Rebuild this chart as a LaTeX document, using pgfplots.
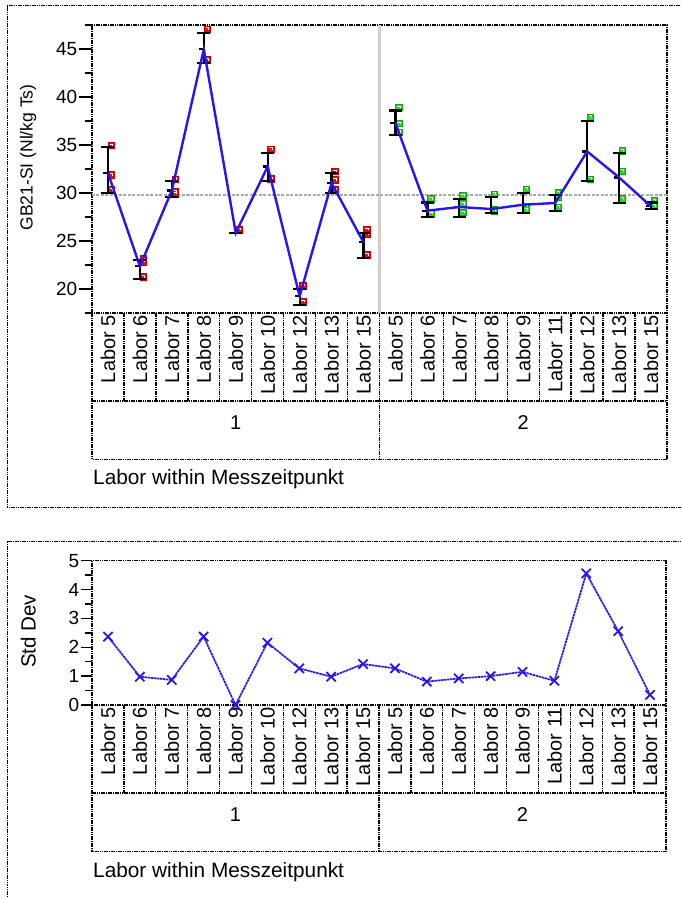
\documentclass[border=0pt]{standalone}
\usepackage{pgfplots}
\pgfplotsset{compat=1.18}
\usepackage{pgfplotstable}
\usepackage{fontspec}
\setmainfont{Liberation Sans}

\definecolor{jblue}{RGB}{40,20,240}
\definecolor{jred}{RGB}{240,10,10}
\definecolor{jredd}{RGB}{205,0,0}
\definecolor{jgreen}{RGB}{40,215,40}
\definecolor{jgreend}{RGB}{20,165,20}
\definecolor{jgray}{RGB}{170,170,170}
\definecolor{jdiv}{RGB}{210,205,200}

\tikzset{jdot/.style={line width=1.4pt, dash pattern=on 1.6pt off 0.7pt, black}}

\pgfdeclareplotmark{jwhite}{%
  \pgfpathmoveto{\pgfqpoint{-0.45\pgfplotmarksize}{0.4\pgfplotmarksize}}%
  \pgfpathlineto{\pgfqpoint{0.4\pgfplotmarksize}{0.4\pgfplotmarksize}}%
  \pgfpathlineto{\pgfqpoint{0.4\pgfplotmarksize}{-0.25\pgfplotmarksize}}%
  \pgfusepathqstroke}
\pgfdeclareplotmark{lefttick}{%
  \pgfpathmoveto{\pgfqpoint{-\pgfplotmarksize}{0pt}}%
  \pgfpathlineto{\pgfqpoint{0pt}{0pt}}%
  \pgfusepathqstroke}

\pgfplotstableread{
x y
0.5 34.99
0.5 31.90
0.5 30.34
1.5 23.13
1.5 22.85
1.5 21.26
2.5 31.46
2.5 30.15
2.5 29.93
3.5 47.08
3.5 43.87
4.5 26.18
4.5 26.18
4.5 26.18
5.5 34.58
5.5 31.49
6.5 20.35
6.5 18.69
7.5 32.25
7.5 31.38
7.5 30.34
8.5 26.22
8.5 25.73
8.5 23.55
}\redpts

\pgfplotstableread{
x y
9.5 38.91
9.5 37.28
9.5 36.35
10.5 29.38
10.5 28.00
10.5 27.85
11.5 29.72
11.5 28.86
11.5 27.98
12.5 29.90
12.5 28.25
12.5 28.16
13.5 30.42
13.5 28.60
13.5 28.26
14.5 30.06
14.5 29.54
14.5 28.54
15.5 37.91
15.5 31.46
16.5 34.40
16.5 32.29
16.5 29.38
17.5 29.20
17.5 28.65
}\greenpts

\pgfplotstableread{
x mean hi lo
0.5 32.08 34.79 30.00
1.5 22.36 22.99 21.05
2.5 30.27 31.25 29.58
3.5 44.98 46.65 43.53
4.5 25.84 25.84 25.84
5.5 32.77 34.16 31.25
6.5 19.24 20.00 18.35
7.5 31.04 32.08 30.00
8.5 24.86 25.84 23.20
}\cellsA

\pgfplotstableread{
x mean hi lo
9.5 37.28 38.60 36.04
10.5 28.16 29.02 27.50
11.5 28.54 29.38 27.50
12.5 28.33 29.58 27.92
13.5 28.78 30.00 27.92
14.5 28.96 29.82 28.13
15.5 34.33 37.49 31.25
16.5 31.62 34.16 28.96
17.5 28.61 29.02 28.33
}\cellsB

\pgfplotstableread{
x sd
0.5 2.37
1.5 0.98
2.5 0.87
3.5 2.37
4.5 0.00
5.5 2.16
6.5 1.27
7.5 0.98
8.5 1.42
9.5 1.27
10.5 0.81
11.5 0.92
12.5 1.00
13.5 1.15
14.5 0.84
15.5 4.56
16.5 2.56
17.5 0.35
}\sdtab

\pgfplotsset{
  jmpaxis/.style={
    anchor=south west, scale only axis,
    xmin=0, xmax=18,
    axis line style={jdot},
    xtick={0.5,1.5,...,17.5},
    xticklabels={Labor 5,Labor 6,Labor 7,Labor 8,Labor 9,Labor 10,Labor 12,Labor 13,Labor 15,Labor 5,Labor 6,Labor 7,Labor 8,Labor 9,Labor 11,Labor 12,Labor 13,Labor 15},
    xtick style={draw=none},
    xticklabel style={rotate=90, anchor=east, inner sep=2pt, font=\fontsize{20}{20}\selectfont},
    ytick align=outside, ytick pos=left,
    minor tick length=7pt,
    ytick style={line width=1.4pt, black},
    yticklabel style={font=\fontsize{19}{19}\selectfont, inner sep=1.5pt},
    /pgf/number format/assume math mode=true,
    clip mode=individual,
  },
}

\newcommand{\jmptable}{%
  \pgfplotsinvokeforeach{1,2,3,4,5,6,7,8,10,11,12,13,14,15,16,17}{%
    \draw[jdot] (axis cs:##1,\pgfkeysvalueof{/pgfplots/ymin}) -- ++(0pt,-88pt);}%
  \draw[jdot] (rel axis cs:0,0) -- ([yshift=-146.5pt]rel axis cs:0,0) -- ([yshift=-146.5pt]rel axis cs:1,0) -- (rel axis cs:1,0);
  \draw[jdot] ([yshift=-88pt]rel axis cs:0,0) -- ([yshift=-88pt]rel axis cs:1,0);
  \draw[jdot] (rel axis cs:0.5,0) -- ([yshift=-146.5pt]rel axis cs:0.5,0);
  \node[font=\fontsize{20}{20}\selectfont] at ([yshift=-109.5pt]rel axis cs:0.25,0) {1};
  \node[font=\fontsize{20}{20}\selectfont] at ([yshift=-109.5pt]rel axis cs:0.75,0) {2};
  \node[anchor=base west, inner sep=0pt, font=\fontsize{20.8}{20.8}\selectfont] at ([xshift=1pt,yshift=-172pt]rel axis cs:0,0) {Labor within Messzeitpunkt};
}

\begin{document}
\begin{tikzpicture}
\path[use as bounding box] (0,0) rectangle (681pt,898pt);
\clip (0,0) rectangle (681pt,898pt);
\fill[white] (0,0) rectangle (681pt,898pt);
\draw[jdot] (7.3pt,390.3pt) rectangle (720pt,892.3pt);
\draw[jdot] (7.3pt,-20pt) rectangle (720pt,356.3pt);

\begin{axis}[jmpaxis,
  at={(92pt,585pt)}, width=575pt, height=288pt,
  ymin=17.5, ymax=47.5,
  ytick={20,25,...,45}, minor ytick={17.5,22.5,...,47.5},
  major tick length=13pt,
  ylabel={GB21-SI (Nl/kg Ts)},
  ylabel style={at={(axis description cs:-0.111,0.54)}, anchor=center, font=\fontsize{17.5}{17.5}\selectfont},
]
\jmptable
\addplot[jdiv, line width=2.2pt] coordinates {(9,17.5) (9,47.5)};
\addplot[jgray, line width=1.8pt, dash pattern=on 3pt off 1.5pt] coordinates {(0,29.82) (18,29.82)};
\addplot[only marks, mark=square*, mark size=3.2pt, mark options={fill=jred, draw=jredd, line width=0.5pt}] table[x expr=\thisrow{x}+0.1, y=y]{\redpts};
\addplot[only marks, mark=jwhite, mark size=3.2pt, mark options={draw=white, line width=0.6pt}] table[x expr=\thisrow{x}+0.1, y=y]{\redpts};
\addplot[only marks, mark=square*, mark size=3.2pt, mark options={fill=jgreen, draw=jgreend, line width=0.5pt}] table[x expr=\thisrow{x}+0.1, y=y]{\greenpts};
\addplot[only marks, mark=jwhite, mark size=3.2pt, mark options={draw=white, line width=0.6pt}] table[x expr=\thisrow{x}+0.1, y=y]{\greenpts};
\addplot[only marks, mark=lefttick, mark size=5pt, mark options={black, line width=2.2pt},
  error bars/.cd, y dir=both, y explicit,
  error bar style={line width=2.2pt, black},
  error mark options={rotate=90, mark size=6.5pt, line width=2.2pt, black}]
  table[x=x, y=mean, y error plus expr=\thisrow{hi}-\thisrow{mean}, y error minus expr=\thisrow{mean}-\thisrow{lo}]{\cellsA};
\addplot[only marks, mark=lefttick, mark size=5pt, mark options={black, line width=2.2pt},
  error bars/.cd, y dir=both, y explicit,
  error bar style={line width=2.2pt, black},
  error mark options={rotate=90, mark size=6.5pt, line width=2.2pt, black}]
  table[x=x, y=mean, y error plus expr=\thisrow{hi}-\thisrow{mean}, y error minus expr=\thisrow{mean}-\thisrow{lo}]{\cellsB};
\addplot[jblue, line width=2.4pt] table[x=x, y=mean]{\cellsA};
\addplot[jblue, line width=2.4pt] table[x=x, y=mean]{\cellsB};
\end{axis}

\begin{axis}[jmpaxis,
  at={(92pt,193pt)}, width=574pt, height=144.3pt,
  ymin=0, ymax=5,
  ytick={0,1,...,5}, minor ytick={0.5,1.5,...,4.5},
  major tick length=11pt,
  ylabel={Std Dev},
  ylabel style={at={(axis description cs:-0.111,0.51)}, anchor=center, font=\fontsize{20.5}{20.5}\selectfont},
]
\jmptable
\addplot[jblue, line width=1.7pt, dash pattern=on 2.5pt off 0.6pt, mark=x, mark size=6.5pt, mark options={solid, line width=1.8pt}] table[x=x, y=sd]{\sdtab};
\end{axis}
\end{tikzpicture}
\end{document}
